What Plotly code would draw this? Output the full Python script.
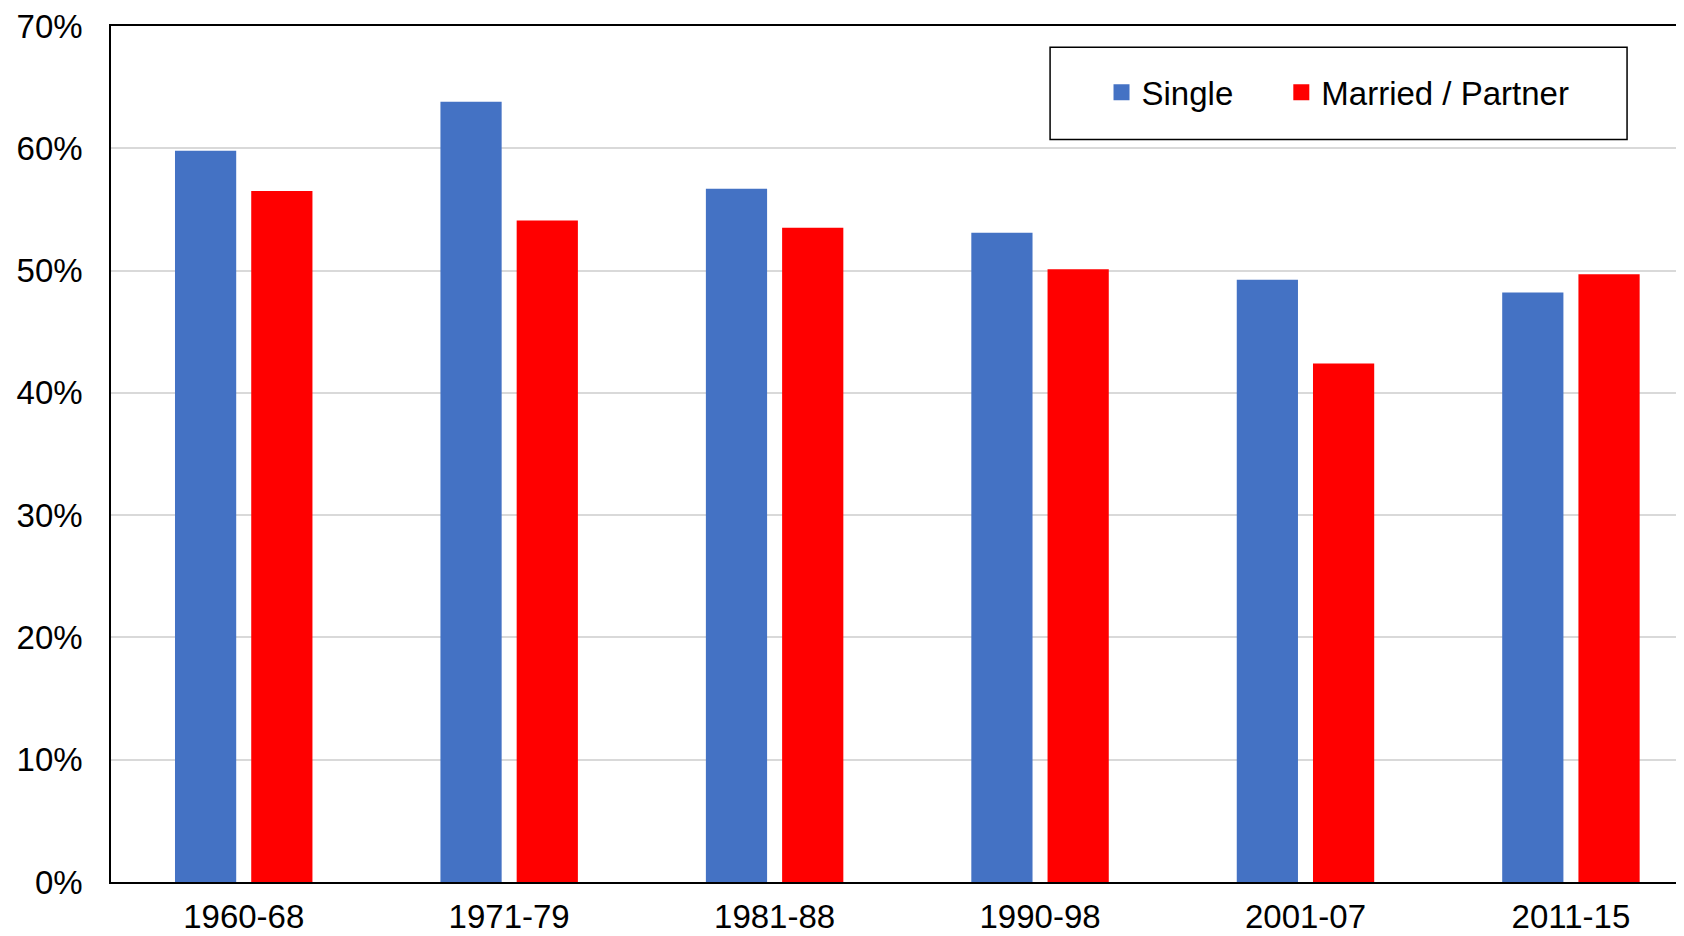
import plotly.graph_objects as go

categories = ["1960-68", "1971-79", "1981-88", "1990-98", "2001-07", "2011-15"]
single = [59.8, 63.8, 56.7, 53.1, 49.25, 48.2]
married = [56.5, 54.1, 53.5, 50.1, 42.4, 49.7]
series_names = ["Single", "Married / Partner"]
colors = ["#4472C4", "#FF0000"]
y_ticks = [0, 10, 20, 30, 40, 50, 60, 70]
y_tick_labels = [f"{v}%" for v in y_ticks]

FONT = "Liberation Sans, Arial, sans-serif"

fig = go.Figure()
for name, vals, col in zip(series_names, [single, married], colors):
    fig.add_trace(go.Bar(x=categories, y=vals, name=name, marker=dict(color=col, line=dict(width=0)),
                         showlegend=False))
# legend entries (one legend each, for exact placement)
for name, col, lg in zip(series_names, colors, ["legend", "legend2"]):
    fig.add_trace(go.Scatter(x=[None], y=[None], mode="markers", name=name, legend=lg,
                             marker=dict(symbol="square", size=16, color=col)))

legend_common = dict(orientation="h", yanchor="middle", y=0.9225, xanchor="left",
                     font=dict(size=33, family=FONT, color="black"),
                     bgcolor="rgba(0,0,0,0)", borderwidth=0, itemsizing="trace")

fig.update_layout(
    width=1676, height=928,
    margin=dict(l=103, r=0, t=18, b=54, autoexpand=False),
    paper_bgcolor="white", plot_bgcolor="white",
    barmode="group", bargap=0.4256, bargroupgap=0.197,
    font=dict(family=FONT, size=33, color="black"),
    legend=dict(x=0.6297, **legend_common),
    legend2=dict(x=0.7440, **legend_common),
    shapes=[dict(type="rect", xref="paper", yref="paper", x0=0.597, x1=0.9638, y0=0.8673, y1=0.9751,
                 line=dict(color="black", width=1.5), fillcolor="rgba(0,0,0,0)", layer="above")],
)
fig.update_xaxes(type="category", range=[-0.5, 5.426], showline=True, linecolor="black", linewidth=2,
                 mirror=True, showgrid=False, ticks="", ticklabelstandoff=4, automargin=False,
                 ticklabeloverflow="allow",
                 tickfont=dict(size=33, family=FONT, color="black"))
fig.update_yaxes(range=[0, 70], tickvals=y_ticks, ticktext=y_tick_labels, showline=True, linecolor="black",
                 linewidth=1.5, showgrid=True, gridcolor="#D9D9D9", gridwidth=1.5, zeroline=False,
                 ticks="", ticklabelstandoff=20, automargin=False, ticklabeloverflow="allow",
                 tickfont=dict(size=33, family=FONT, color="black"))

fig.write_html("out.html")
